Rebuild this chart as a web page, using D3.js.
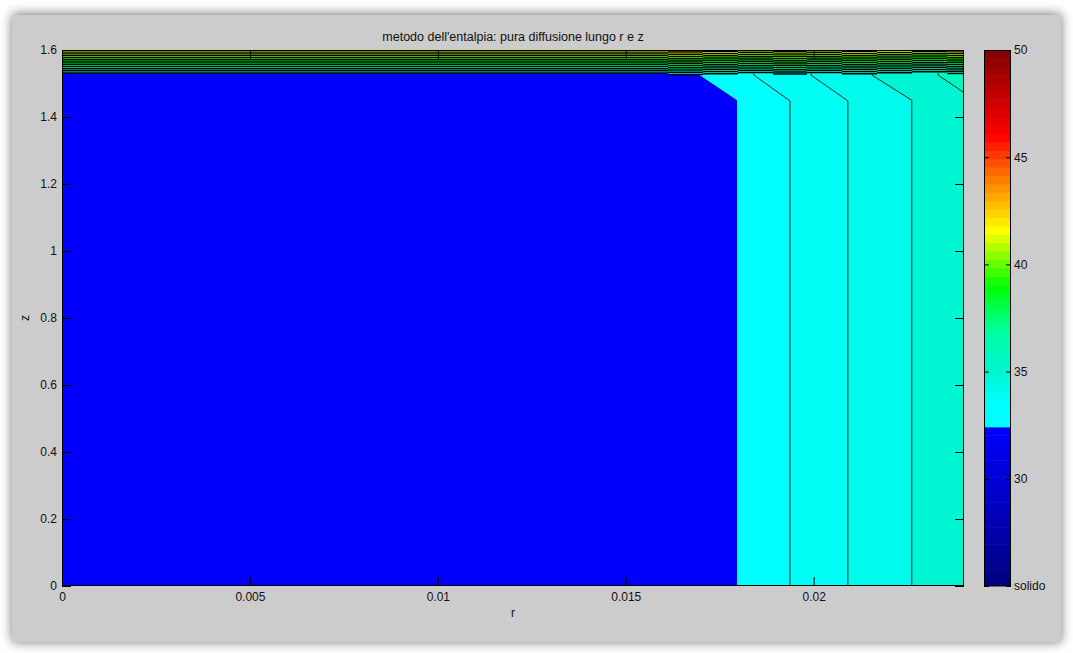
<!DOCTYPE html>
<html>
<head>
<meta charset="utf-8">
<script src="https://cdn.jsdelivr.net/npm/d3@7"></script>
<style>
  html, body { margin: 0; padding: 0; background: #ffffff; }
  svg { display: block; font-family: "Liberation Sans", Arial, Helvetica, sans-serif; }
</style>
</head>
<body>
<svg id="chart" width="1073" height="653"></svg>
<script>
// ---- text and ticks ----
const chartTitle = "metodo dell'entalpia: pura diffusione lungo r e z";
const xLabel = "r";
const yLabel = "z";
const rTicks = [0, 0.005, 0.01, 0.015, 0.02];
const rTickLabels = ["0", "0.005", "0.01", "0.015", "0.02"];
const zTicks = [0, 0.2, 0.4, 0.6, 0.8, 1, 1.2, 1.4, 1.6];
const zTickLabels = ["0", "0.2", "0.4", "0.6", "0.8", "1", "1.2", "1.4", "1.6"];
const cbTicks = [25, 30, 35, 40, 45, 50];
const cbTickLabels = ["solido", "30", "35", "40", "45", "50"];

// ---- domains ----
const rDomain = [0, 0.024];
const zDomain = [0, 1.6];
const tDomain = [25, 50];

// ---- colormap (temperature -> colour), sampled in 64 steps ----
const cmapT = [25, 32.4, 32.41, 33.5, 35, 37, 39, 41.6, 44.3, 46, 50];
const cmapC = ["#000080", "#0000ff", "#00ffff", "#00ffff", "#00f5d2", "#00ff9c",
               "#00ff00", "#ffff00", "#ff6a00", "#ff0000", "#800000"];
const nColors = 64;

// ---- solid region edge and melting isotherms (r at top, r at base, z of knee) ----
const frontTopZ = 1.525;
const frontTopR  = [0.01698, 0.01841, 0.01993, 0.02155, 0.02331];
const frontBaseR = [0.01796, 0.01937, 0.02091, 0.02261, 0.02430];
const frontKneeZ = [1.451, 1.448, 1.448, 1.450, 1.450];
const solidT = 32.2;                             // solid phase
const bandT = [33.0, 33.7, 34.3, 35.0, 35.6];    // liquid band to the right of each front

// ---- thin boundary layer near the top surface ----
const layerZ = [1.531, 1.5377, 1.5444, 1.5511, 1.5578, 1.5645, 1.5712, 1.5779, 1.5846, 1.5913, 1.598];
const layerT = [35.5, 36.2, 36.9, 37.5, 38.1, 38.7, 39.3, 39.9, 40.6, 41.5, 43.5];
const layerColR = [0, 0.016124, 0.017056, 0.017987, 0.018918, 0.019823, 0.020754,
                   0.021685, 0.022616, 0.023548, 0.024];
const layerColShift = [0, -0.004, -0.002, 0.002, -0.003, 0.002, -0.002, 0.001, 0.004, -0.001];

// ---- layout ----
const plot = { left: 62, right: 964, top: 50, bottom: 586 };
const cbar = { left: 984, right: 1011, top: 50, bottom: 586 };
const tickLen = 9;

const svg = d3.select("#chart");
const defs = svg.append("defs");

// window panel with soft shadow
const blur = defs.append("filter").attr("id", "panelShadow")
  .attr("x", "-5%").attr("y", "-5%").attr("width", "110%").attr("height", "110%");
blur.append("feGaussianBlur").attr("stdDeviation", 6);
svg.append("rect").attr("x", 12).attr("y", 14).attr("width", 1049).attr("height", 628)
  .attr("fill", "#000").attr("opacity", 0.55).attr("filter", "url(#panelShadow)");
svg.append("rect").attr("x", 12).attr("y", 15).attr("width", 1049).attr("height", 627)
  .attr("fill", "#cccccc");

const x = d3.scaleLinear().domain(rDomain).range([plot.left, plot.right]);
const y = d3.scaleLinear().domain(zDomain).range([plot.bottom, plot.top]);
const yc = d3.scaleLinear().domain(tDomain).range([cbar.bottom, cbar.top]);

const cmapScale = d3.scaleLinear().domain(cmapT).range(cmapC).interpolate(d3.interpolateRgb).clamp(true);
const step = (tDomain[1] - tDomain[0]) / nColors;
const cmap = t => {
  const i = Math.max(0, Math.min(nColors - 1, Math.floor((t - tDomain[0]) / step)));
  return cmapScale(tDomain[0] + (i + 0.5) * step);
};

defs.append("clipPath").attr("id", "plotClip").append("rect")
  .attr("x", plot.left).attr("y", plot.top)
  .attr("width", plot.right - plot.left).attr("height", plot.bottom - plot.top);

const area = svg.append("g").attr("clip-path", "url(#plotClip)");
const line = d3.line().x(d => x(d[0])).y(d => y(d[1]));
const rEnd = rDomain[1] * 1.05;

// solid phase
area.append("path")
  .attr("d", line([[0, 0], [frontBaseR[0], 0], [frontBaseR[0], frontKneeZ[0]],
                   [frontTopR[0], frontTopZ], [frontTopR[0], zDomain[1]], [0, zDomain[1]]]) + "Z")
  .attr("fill", cmap(solidT));

// liquid bands, left to right
frontTopR.forEach((tr, i) => {
  area.append("path")
    .attr("d", line([[frontBaseR[i], 0], [rEnd, 0], [rEnd, zDomain[1]], [tr, zDomain[1]],
                     [tr, frontTopZ], [frontBaseR[i], frontKneeZ[i]]]) + "Z")
    .attr("fill", cmap(bandT[i]));
});

// isotherm lines (the solid edge itself is not stroked)
frontTopR.forEach((tr, i) => {
  if (i === 0) return;
  area.append("path")
    .attr("d", line([[frontBaseR[i], 0], [frontBaseR[i], frontKneeZ[i]], [tr, frontTopZ], [tr, layerZ[0]]]))
    .attr("fill", "none").attr("stroke", "#2a2a2a").attr("stroke-width", 1);
});

// boundary layer bands and contour lines, column by column
layerColShift.forEach((s, c) => {
  const x0 = x(layerColR[c]), x1 = x(layerColR[c + 1]);
  layerT.forEach((t, j) => {
    const zLo = layerZ[j] + s;
    const zHi = j + 1 < layerZ.length ? layerZ[j + 1] + s : zDomain[1] + 0.01;
    area.append("rect")
      .attr("x", x0).attr("width", x1 - x0)
      .attr("y", y(zHi)).attr("height", y(zLo) - y(zHi))
      .attr("fill", cmap(t));
  });
  layerZ.forEach(z => {
    area.append("line")
      .attr("x1", x0).attr("x2", x1)
      .attr("y1", y(z + s)).attr("y2", y(z + s))
      .attr("stroke", "#000").attr("stroke-width", 1.5);
  });
});

// ---- axes: ticks pointing inward on all four sides ----
const fontSize = 12;
const styleAxis = g => {
  g.select(".domain").remove();
  g.selectAll(".tick line").attr("stroke", "#000");
  g.selectAll("text").attr("fill", "#111").attr("font-size", fontSize)
    .attr("font-family", "'Liberation Sans', Arial, Helvetica, sans-serif");
};

svg.append("g").attr("transform", `translate(0,${plot.bottom})`)
  .call(d3.axisBottom(x).tickValues(rTicks).tickFormat((d, i) => rTickLabels[i])
    .tickSizeInner(-tickLen).tickSizeOuter(0).tickPadding(6))
  .call(styleAxis);
svg.append("g").attr("transform", `translate(0,${plot.top})`)
  .call(d3.axisTop(x).tickValues(rTicks).tickFormat("")
    .tickSizeInner(-tickLen).tickSizeOuter(0))
  .call(styleAxis);
svg.append("g").attr("transform", `translate(${plot.left},0)`)
  .call(d3.axisLeft(y).tickValues(zTicks).tickFormat((d, i) => zTickLabels[i])
    .tickSizeInner(-tickLen).tickSizeOuter(0).tickPadding(5))
  .call(styleAxis);
svg.append("g").attr("transform", `translate(${plot.right},0)`)
  .call(d3.axisRight(y).tickValues(zTicks).tickFormat("")
    .tickSizeInner(-tickLen).tickSizeOuter(0))
  .call(styleAxis);

// axes box
svg.append("rect")
  .attr("x", plot.left + 0.5).attr("y", plot.top + 0.5)
  .attr("width", plot.right - plot.left - 1).attr("height", plot.bottom - plot.top - 1)
  .attr("fill", "none").attr("stroke", "#000").attr("stroke-width", 1);

// title and axis labels
svg.append("text").attr("x", (plot.left + plot.right) / 2).attr("y", 41)
  .attr("text-anchor", "middle").attr("font-size", 12.5).attr("fill", "#111")
  .text(chartTitle);
svg.append("text").attr("x", (plot.left + plot.right) / 2).attr("y", 617)
  .attr("text-anchor", "middle").attr("font-size", fontSize).attr("fill", "#111")
  .text(xLabel);
svg.append("text").attr("transform", `translate(29,${(plot.top + plot.bottom) / 2}) rotate(-90)`)
  .attr("text-anchor", "middle").attr("font-size", fontSize).attr("fill", "#111")
  .text(yLabel);

// ---- colour bar ----
const cb = svg.append("g");
cb.selectAll("rect.cell").data(d3.range(nColors)).join("rect")
  .attr("class", "cell")
  .attr("x", cbar.left).attr("width", cbar.right - cbar.left)
  .attr("y", i => yc(tDomain[0] + (i + 1) * step))
  .attr("height", i => yc(tDomain[0] + i * step) - yc(tDomain[0] + (i + 1) * step) + 0.5)
  .attr("fill", i => cmap(tDomain[0] + (i + 0.5) * step));

svg.append("g").attr("transform", `translate(${cbar.right},0)`)
  .call(d3.axisRight(yc).tickValues(cbTicks).tickFormat((d, i) => cbTickLabels[i])
    .tickSizeInner(-5).tickSizeOuter(0).tickPadding(3))
  .call(styleAxis);
svg.append("g").attr("transform", `translate(${cbar.left},0)`)
  .call(d3.axisLeft(yc).tickValues(cbTicks).tickFormat("")
    .tickSizeInner(-5).tickSizeOuter(0))
  .call(styleAxis);

svg.append("rect")
  .attr("x", cbar.left + 0.5).attr("y", cbar.top + 0.5)
  .attr("width", cbar.right - cbar.left - 1).attr("height", cbar.bottom - cbar.top - 1)
  .attr("fill", "none").attr("stroke", "#000").attr("stroke-width", 1);
</script>
</body>
</html>
